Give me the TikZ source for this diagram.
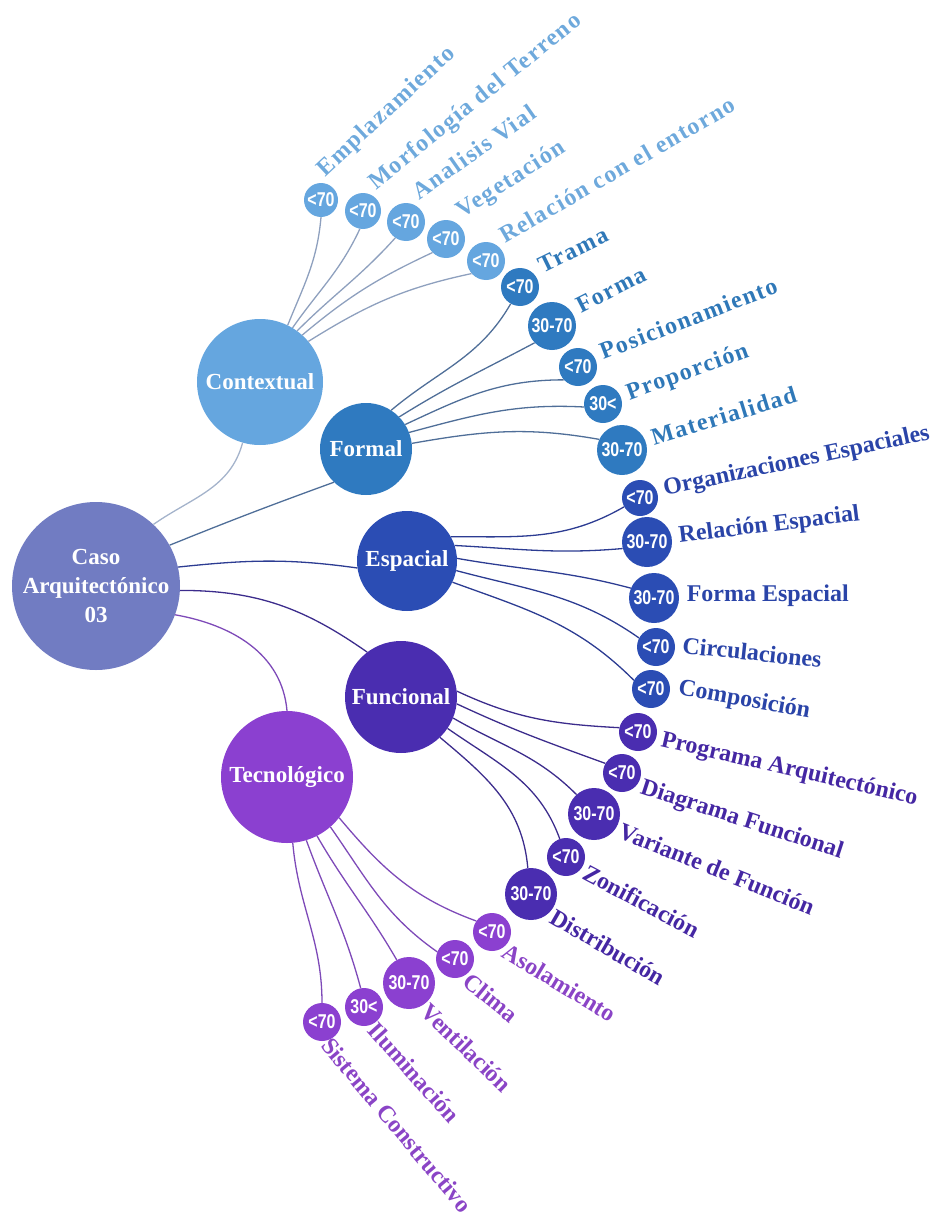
\documentclass[tikz,border=0pt]{standalone}
\usepackage{fontspec}
\setmainfont{Liberation Serif}
\newfontfamily\valfont[FakeStretch=0.8]{Liberation Sans}
\newfontfamily\wideserif[LetterSpace=6]{Liberation Serif}

% branch colours
\definecolor{rootfill}{HTML}{717CC2}
\definecolor{ctxfill}{HTML}{65A6DF}
\definecolor{frmfill}{HTML}{2F7AC0}
\definecolor{espfill}{HTML}{2B4DB4}
\definecolor{funfill}{HTML}{4A2DB0}
\definecolor{tecfill}{HTML}{8B40D0}
\definecolor{ctxtxt}{HTML}{6EA9DC}
\definecolor{frmtxt}{HTML}{2F78B8}
\definecolor{esptxt}{HTML}{2A44A8}
\definecolor{funtxt}{HTML}{4527A3}
\definecolor{tectxt}{HTML}{8A44C6}
\definecolor{ctxline}{HTML}{8EA0BE}
\definecolor{frmline}{HTML}{4F6E98}
\definecolor{espline}{HTML}{2C3C92}
\definecolor{funline}{HTML}{3C2C8C}
\definecolor{tecline}{HTML}{7E4AB8}

\tikzset{
  hub/.style={circle, inner sep=0pt, text=white, align=center,
    font=\fontsize{23}{29}\selectfont\bfseries},
  val/.style={circle, inner sep=0pt, text=white,
    font=\valfont\fontsize{20}{20}\selectfont\bfseries},
  tag/.style={anchor=base west, label distance=7pt,
    font=\fontsize{24}{24}\selectfont\bfseries},
  widetag/.style={tag, font=\wideserif\fontsize{24}{24}\selectfont\bfseries},
  link/.style={line width=1.3pt},
}

\begin{document}
\begin{tikzpicture}[x=1pt, y=1pt]
\useasboundingbox (0,0) rectangle (936,-1220);

% Hubs
\node[hub, fill=rootfill, minimum size=168] (root) at (96,-586) {Caso\\Arquitectónico\\03};
\node[hub, fill=ctxfill, minimum size=126] (ctx) at (260,-382) {Contextual};
\node[hub, fill=frmfill, minimum size=92] (frm) at (366,-449) {Formal};
\node[hub, fill=espfill, minimum size=100] (esp) at (407,-561) {Espacial};
\node[hub, fill=funfill, minimum size=112] (fun) at (401,-697) {Funcional};
\node[hub, fill=tecfill, minimum size=132] (tec) at (287,-777) {Tecnológico};

% Contextual leaves
\begin{scope}[every node/.style={val, fill=ctxfill}]
  \node[minimum size=34, label={[widetag, text=ctxtxt, rotate=43]68:Emplazamiento}] (emp) at (321,-200) {<70};
  \node[minimum size=36, label={[widetag, text=ctxtxt, rotate=39]47:Morfología del Terreno}] (mor) at (363,-211) {<70};
  \node[minimum size=38, label={[widetag, text=ctxtxt, rotate=35]50:Analisis Vial}] (ana) at (406,-222) {<70};
  \node[minimum size=38, label={[widetag, text=ctxtxt, rotate=33]42:Vegetación}] (veg) at (446,-239) {<70};
  \node[minimum size=38, label={[widetag, text=ctxtxt, rotate=30]34:Relación con el entorno}] (rel) at (486,-261) {<70};
\end{scope}

% Formal leaves
\begin{scope}[every node/.style={val, fill=frmfill}]
  \node[minimum size=38, label={[widetag, text=frmtxt, rotate=26]24:Trama}] (tra) at (520,-287) {<70};
  \node[minimum size=48, label={[widetag, text=frmtxt, rotate=27]17:Forma}] (fma) at (552,-326) {30-70};
  \node[minimum size=38, label={[widetag, text=frmtxt, rotate=21]10:Posicionamiento}] (pos) at (578,-367) {<70};
  \node[minimum size=38, label={[widetag, text=frmtxt, rotate=20]2:Proporción}] (pro) at (603,-404) {30<};
  \node[minimum size=50, label={[widetag, text=frmtxt, rotate=17]4:Materialidad}] (mat) at (622,-450) {30-70};
\end{scope}

% Espacial leaves
\begin{scope}[every node/.style={val, fill=espfill}]
  \node[minimum size=36, label={[tag, text=esptxt, rotate=12]2:Organizaciones Espaciales}] (org) at (640,-498) {<70};
  \node[minimum size=50, label={[tag, text=esptxt, rotate=7]-3:Relación Espacial}] (res) at (647,-542) {30-70};
  \node[minimum size=50, label={[tag, text=esptxt, rotate=0]-7:Forma Espacial}] (fes) at (654,-598) {30-70};
  \node[minimum size=38, label={[tag, text=esptxt, rotate=-6]-12:Circulaciones}] (cir) at (656,-647) {<70};
  \node[minimum size=38, label={[tag, text=esptxt, rotate=-10]-9:Composición}] (com) at (651,-689) {<70};
\end{scope}

% Funcional leaves
\begin{scope}[every node/.style={val, fill=funfill}]
  \node[minimum size=38, label={[tag, text=funtxt, rotate=-13]-29:Programa Arquitectónico}] (prg) at (638,-732) {<70};
  \node[minimum size=38, label={[tag, text=funtxt, rotate=-18]-45:Diagrama Funcional}] (dia) at (622,-773) {<70};
  \node[minimum size=52, label={[tag, text=funtxt, rotate=-22]-41:Variante de Función}] (var) at (594,-814) {30-70};
  \node[minimum size=38, label={[tag, text=funtxt, rotate=-28]-48:Zonificación}] (zon) at (566,-857) {<70};
  \node[minimum size=52, label={[tag, text=funtxt, rotate=-30]-53:Distribución}] (dis) at (531,-894) {30-70};
\end{scope}

% Tecnologico leaves
\begin{scope}[every node/.style={val, fill=tecfill}]
  \node[minimum size=38, label={[tag, text=tectxt, rotate=-31]-64:Asolamiento}] (aso) at (492,-932) {<70};
  \node[minimum size=38, label={[tag, text=tectxt, rotate=-39]-67:Clima}] (cli) at (455,-959) {<70};
  \node[minimum size=52, label={[tag, text=tectxt, rotate=-44]-63:Ventilación}] (ven) at (409,-983) {30-70};
  \node[minimum size=38, label={[tag, text=tectxt, rotate=-48]-73:Iluminación}] (ilu) at (364,-1007) {30<};
  \node[minimum size=38, label={[tag, text=tectxt, rotate=-50]-82:Sistema Constructivo}] (sis) at (322,-1022) {<70};
\end{scope}

% Links from the root
\draw[link, ctxline!80] (root.47) to[out=35, in=255] (ctx.254);
\draw[link, frmline] (root.29) to[out=22, in=200] (frm.226);
\draw[link, espline] (root.13) to[out=6, in=172] (esp.188);
\draw[link, funline] (root.-3) to[out=0, in=145] (fun.127);
\draw[link, tecline] (root.-20) to[out=-10, in=95] (tec.90);

% Links to the leaves
\begin{scope}[link, ctxline]
  \draw (ctx.64) to[out=68, in=265] (emp.270);
  \draw (ctx.59) to[out=55, in=245] (mor.260);
  \draw (ctx.54) to[out=45, in=228] (ana.236);
  \draw (ctx.48) to[out=40, in=205] (veg.225);
  \draw (ctx.40) to[out=32, in=192] (rel.221);
\end{scope}
\begin{scope}[link, frmline]
  \draw (frm.57) to[out=40, in=240] (tra.241);
  \draw (frm.44) to[out=32, in=208] (fma.224);
  \draw (frm.32) to[out=25, in=180] (pos.222);
  \draw (frm.21) to[out=15, in=177] (pro.189);
  \draw (frm.7) to[out=10, in=170] (mat.155);
\end{scope}
\begin{scope}[link, espline]
  \draw (esp.29) to[out=0, in=210] (org.209);
  \draw (esp.18) to[out=-3, in=185] (res.195);
  \draw (esp.3) to[out=-10, in=165] (fes.157);
  \draw (esp.-11) to[out=-15, in=145] (cir.152);
  \draw (esp.-25) to[out=-20, in=135] (com.153);
\end{scope}
\begin{scope}[link, funline]
  \draw (fun.6) to[out=-25, in=177] (prg.167);
  \draw (fun.-7) to[out=-25, in=160] (dia.150);
  \draw (fun.-22) to[out=-30, in=135] (var.132);
  \draw (fun.-34) to[out=-35, in=110] (zon.109);
  \draw (fun.-46) to[out=-40, in=95] (dis.97);
\end{scope}
\begin{scope}[link, tecline]
  \draw (tec.-38) to[out=-50, in=160] (aso.145);
  \draw (tec.-49) to[out=-55, in=145] (cli.158);
  \draw (tec.-63) to[out=-60, in=120] (ven.118);
  \draw (tec.-73) to[out=-70, in=105] (ilu.100);
  \draw (tec.-85) to[out=-85, in=90] (sis.90);
\end{scope}
\end{tikzpicture}
\end{document}
